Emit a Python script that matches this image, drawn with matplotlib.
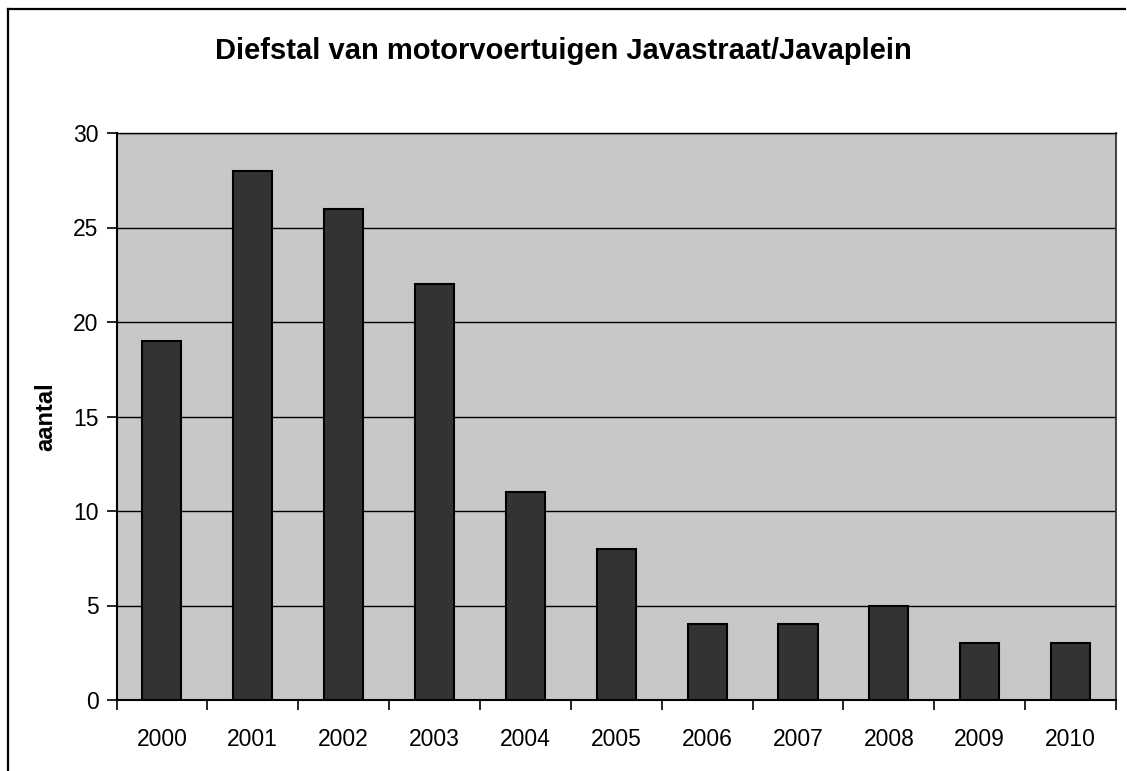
import matplotlib
matplotlib.use("Agg")
import matplotlib.pyplot as plt
from matplotlib.lines import Line2D

years = ["2000", "2001", "2002", "2003", "2004", "2005", "2006", "2007", "2008", "2009", "2010"]
counts = [19, 28, 26, 22, 11, 8, 4, 4, 5, 3, 3]
yticks = [0, 5, 10, 15, 20, 25, 30]

plt.rcParams['font.family'] = ['Liberation Sans', 'DejaVu Sans']

fig = plt.figure(figsize=(11.27, 7.71), dpi=100)
ax = fig.add_axes([116.5/1127, 1 - 700/771, (1116-116.5)/1127, (700-133)/771])
ax.set_facecolor('#c8c8c8')

x = list(range(len(years)))
ax.bar(x, counts, width=0.43, color='#333333', edgecolor='black', linewidth=1.5, zorder=3)

ax.set_xlim(-0.5, len(years) - 0.5)
ax.set_ylim(0, 30)
ax.set_yticks(yticks)
ax.set_yticklabels([str(v) for v in yticks], fontsize=16.5)
ax.set_xticks(x)
ax.set_xticklabels(years, fontsize=16.5)
ax.tick_params(axis='x', which='major', length=0, pad=20)
ax.set_xticks([i + 0.5 for i in range(-1, len(years))], minor=True)
ax.tick_params(axis='x', which='minor', length=7, width=1.2, direction='out')
ax.tick_params(axis='y', length=7, width=1.2, direction='out', pad=6)
ax.yaxis.grid(True, color='black', linewidth=1.0, zorder=1)
ax.set_axisbelow(True)
for s in ['left', 'bottom']:
    ax.spines[s].set_linewidth(1.5)
    ax.spines[s].set_color('black')
ax.spines['top'].set_color('black')
ax.spines['top'].set_linewidth(1.0)
ax.spines['right'].set_color('#333333')
ax.spines['right'].set_linewidth(1.3)

ax.set_ylabel('aantal', fontsize=17, fontweight='bold', labelpad=11)
fig.text(0.5, 1 - 51/771, 'Diefstal van motorvoertuigen Javastraat/Javaplein',
         ha='center', va='center', fontsize=21, fontweight='bold')

fig.lines.append(Line2D([8/1127, 8/1127], [0, 1 - 9/771], transform=fig.transFigure,
                        color='black', linewidth=1.6))
fig.lines.append(Line2D([8/1127, 1125/1127], [1 - 9/771, 1 - 9/771], transform=fig.transFigure,
                        color='black', linewidth=1.6))

fig.savefig('out.png', dpi=100)
